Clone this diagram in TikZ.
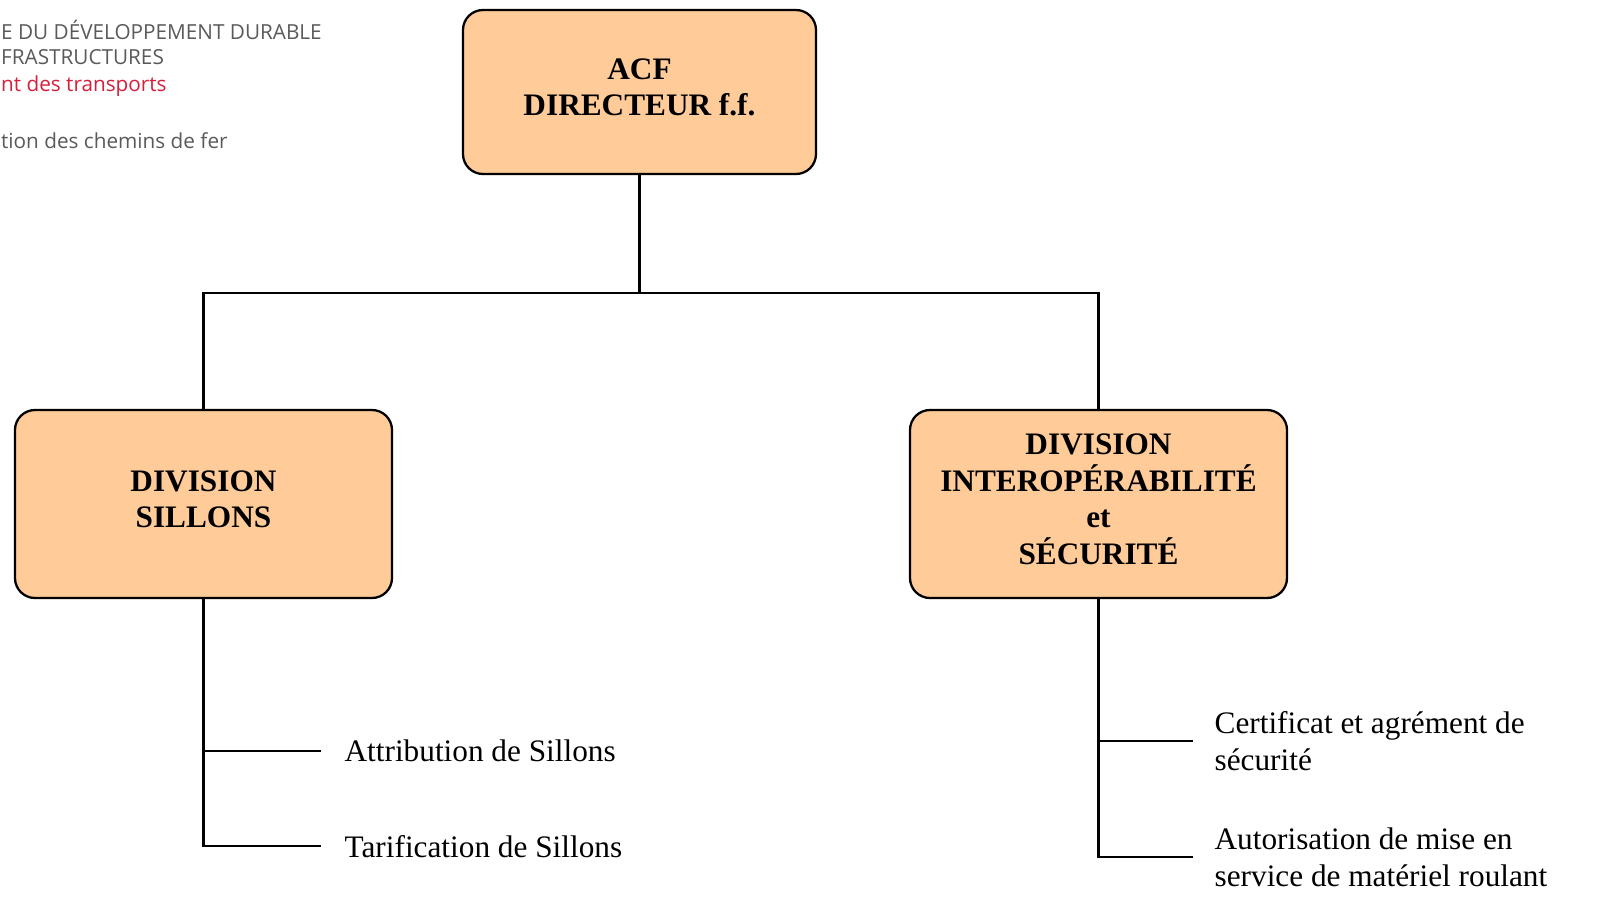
\documentclass[tikz,border=0pt]{standalone}
\usepackage{fontspec}
\setmainfont{Liberation Serif}
\newfontfamily\logofont{Open Sans}
\usetikzlibrary{positioning}
\definecolor{peach}{RGB}{255,204,153}
\definecolor{logogray}{RGB}{90,90,90}
\definecolor{logored}{RGB}{215,30,60}

\begin{document}
\begin{tikzpicture}[node distance=2cm, on grid, line width=1.3pt,
    font=\fontsize{17.8}{21}\selectfont,
    unit/.style={draw, fill=peach, rounded corners=0.4cm, align=center,
      font=\fontsize{17.8}{20.8}\selectfont\bfseries,
      execute at end node={\rule[-0.2cm]{0pt}{0pt}}},
    item/.style={anchor=west, align=left, inner sep=0pt},
    logo/.style={anchor=west, inner sep=0pt, font=\logofont\fontsize{11.8}{14}\selectfont}]
    \useasboundingbox (-12.79,1.84) rectangle (19.17,-16.34);%
    % header, cut at the left edge
    \node[logo, text=logogray] (logoa) at (-12.79,1.24) {E DU DÉVELOPPEMENT DURABLE};%
    \node[logo, text=logogray] (logob) at (-12.79,0.70) {FRASTRUCTURES};%
    \node[logo, text=logored] (logoc) at (-12.79,0.12) {nt des transports};%
    \node[logo, text=logogray] (logod) at (-12.79,-0.98) {tion des chemins de fer};%
    % units
    \node[unit, minimum width=7.06cm, minimum height=3.28cm] (acf) {ACF\\DIRECTEUR f.f.};%
    \node[unit, minimum width=7.54cm, minimum height=3.76cm, below left=8.24cm and 8.72cm of acf]%
    (sillons) {DIVISION\\SILLONS};%
    \node[unit, minimum width=7.54cm, minimum height=3.76cm, below right=8.24cm and 9.18cm of acf]%
    (interop) {DIVISION\\INTEROPÉRABILITÉ\\et\\SÉCURITÉ};%
    \coordinate (bus) at ([yshift=-2.36cm]acf.south);%
    \draw (acf.south) -- (bus);%
    \draw (sillons.north) |- (bus) -| (interop.north);%
    % tasks
    \node[item] (attrib) at ([shift={(2.8,-3.04)}]sillons.south) {Attribution de Sillons};%
    \node[item] (tarif) at ([shift={(2.8,-4.94)}]sillons.south) {Tarification de Sillons};%
    \node[item] (certif) at ([shift={(2.3,-2.84)}]interop.south) {Certificat et agrément de\\sécurité};%
    \node[item] (autor) at ([shift={(2.3,-5.16)}]interop.south) {Autorisation de mise en\\service de matériel roulant};%
    \draw (sillons.south) |- ([xshift=-0.44cm]attrib.west);%
    \draw (sillons.south) |- ([xshift=-0.44cm]tarif.west);%
    \draw (interop.south) |- ([xshift=-0.42cm]certif.west);%
    \draw (interop.south) |- ([xshift=-0.42cm]autor.west);%
\end{tikzpicture}
\end{document}
